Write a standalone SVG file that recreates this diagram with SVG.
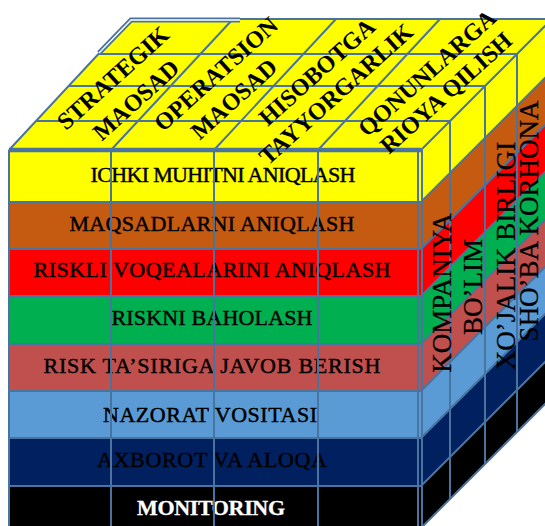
<svg xmlns="http://www.w3.org/2000/svg" width="545" height="526" viewBox="0 0 545 526">
  <style>
    .ln{stroke:#4A74A0;stroke-width:2;fill:none}
    .ln-thick{stroke:#4A74A0;stroke-width:4.5;fill:none}
    .front{font-family:"Liberation Serif","Times New Roman",serif;font-size:22px;fill:#000;stroke:#000;stroke-width:0.45;text-anchor:middle}
    .top{font-family:"Liberation Serif","Times New Roman",serif;font-size:24px;font-weight:bold;fill:#000;text-anchor:middle}
    .side{font-family:"Liberation Serif","Times New Roman",serif;font-size:27px;fill:#000;stroke:#000;stroke-width:0.3;text-anchor:middle}
  </style>
  <rect width="545" height="526" fill="#fff"/>

  <!-- component layers: front band + right-side band -->
  <g id="row-ichki-muhit">
    <rect x="9" y="150" width="412" height="52" fill="#FFFF00"/>
    <polygon points="421,150 552,19 552,71 421,202" fill="#FFFF00"/>
    <text class="front" x="223" y="182" textLength="265">ICHKI MUHITNI ANIQLASH</text>
  </g>
  <g id="row-maqsad">
    <rect x="9" y="202" width="412" height="47" fill="#C55A11"/>
    <polygon points="421,202 552,71 552,118 421,249" fill="#C55A11"/>
    <text class="front" x="212" y="231" textLength="285">MAQSADLARNI ANIQLASH</text>
  </g>
  <g id="row-voqea">
    <rect x="9" y="249" width="412" height="47" fill="#FF0000"/>
    <polygon points="421,249 552,118 552,165 421,296" fill="#FF0000"/>
    <text class="front" x="212" y="277" textLength="357">RISKLI VOQEALARINI ANIQLASH</text>
  </g>
  <g id="row-baholash">
    <rect x="9" y="296" width="412" height="48" fill="#00B050"/>
    <polygon points="421,296 552,165 552,213 421,344" fill="#00B050"/>
    <text class="front" x="212" y="325" textLength="201">RISKNI BAHOLASH</text>
  </g>
  <g id="row-javob">
    <rect x="9" y="344" width="412" height="47" fill="#C0504D"/>
    <polygon points="421,344 552,213 552,260 421,391" fill="#C0504D"/>
    <text class="front" x="212" y="373" textLength="337">RISK TA’SIRIGA JAVOB BERISH</text>
  </g>
  <g id="row-nazorat">
    <rect x="9" y="391" width="412" height="47" fill="#5B9BD5"/>
    <polygon points="421,391 552,260 552,307 421,438" fill="#5B9BD5"/>
    <text class="front" x="210" y="422" textLength="214">NAZORAT VOSITASI</text>
  </g>
  <g id="row-axborot">
    <rect x="9" y="438" width="412" height="48" fill="#002060"/>
    <polygon points="421,438 552,307 552,355 421,486" fill="#002060"/>
    <text class="front" x="212" y="467" textLength="230">AXBOROT VA ALOQA</text>
  </g>
  <g id="row-monitoring">
    <rect x="9" y="486" width="412" height="42" fill="#000"/>
    <polygon points="421,486 552,355 552,397 421,528" fill="#000"/>
    <text class="front" x="211" y="515" textLength="148" style="fill:#fff;stroke:#fff;stroke-width:0.3;font-weight:bold">MONITORING</text>
  </g>

  <!-- objectives: top face -->
  <g id="top-face">
    <polygon points="9,150 131,19 552,19 421,150" fill="#FFFF00"/>
  </g>

  <!-- grid lines of the cube -->
  <g id="connectors">
    <!-- front face -->
    <path class="ln" d="M9,150 V528 M111,150 V528 M214,150 V528 M318,150 V528 M418,150 V528 M422,150 V528"/>
    <path class="ln" d="M9,202 H421 M9,249 H421 M9,296 H421 M9,344 H421 M9,391 H421 M9,438 H421 M9,486 H421"/>
    <!-- right face -->
    <path class="ln" d="M421,202 L552,71 M421,249 L552,118 M421,296 L552,165 M421,344 L552,213 M421,391 L552,260 M421,438 L552,307 M421,486 L552,355 M421,528 L552,397"/>
    <path class="ln" d="M450,121 V499 M485,86 V464 M517,54 V432"/>
    <!-- top face -->
    <path class="ln" d="M36,121 H450 M69,86 H485 M98,54 H517"/>
    <path class="ln" d="M111,150 L233,19 M214,150 L336,19 M318,150 L440,19"/>
    <path class="ln" d="M9,150 L131,19 H552 M421,150 L552,19"/>
    <path class="ln-thick" d="M9,150 H421"/>
    <path d="M99,53 L131,20 H240" fill="none" stroke="#4A74A0" stroke-width="5"/>
    <path d="M99,53 L131,20 H240" fill="none" stroke="#fff" stroke-width="1.3"/>
  </g>

  <!-- objective labels -->
  <g id="obj-strategik">
    <text class="top" transform="translate(113,78) rotate(-42)" y="8">STRATEGIK</text>
    <text class="top" transform="translate(136,100) rotate(-42)" y="8">MAOSAD</text>
  </g>
  <g id="obj-operatsion">
    <text class="top" transform="translate(216,74) rotate(-42)" y="8">OPERATSION</text>
    <text class="top" transform="translate(234,99) rotate(-42)" y="8">MAOSAD</text>
  </g>
  <g id="obj-hisobot">
    <text class="top" transform="translate(317,72) rotate(-42)" y="8">HISOBOTGA</text>
    <text class="top" transform="translate(336,94) rotate(-42)" y="8">TAYYORGARLIK</text>
  </g>
  <g id="obj-qonun">
    <text class="top" transform="translate(427,73) rotate(-42)" y="8">QONUNLARGA</text>
    <text class="top" transform="translate(446,93) rotate(-42)" y="8">RIOYA QILISH</text>
  </g>

  <!-- entity levels: right face -->
  <g id="unit-kompaniya">
    <text class="side" transform="translate(451,293) rotate(-90)">KOMPANIYA</text>
  </g>
  <g id="unit-bolim">
    <text class="side" transform="translate(482,287) rotate(-90)">BO’LIM</text>
  </g>
  <g id="unit-xojalik">
    <text class="side" transform="translate(515,256) rotate(-90)">XO’JALIK BIRLIGI</text>
  </g>
  <g id="unit-shoba">
    <text class="side" transform="translate(538,221) rotate(-90)">SHO’BA KORHONA</text>
  </g>
</svg>
